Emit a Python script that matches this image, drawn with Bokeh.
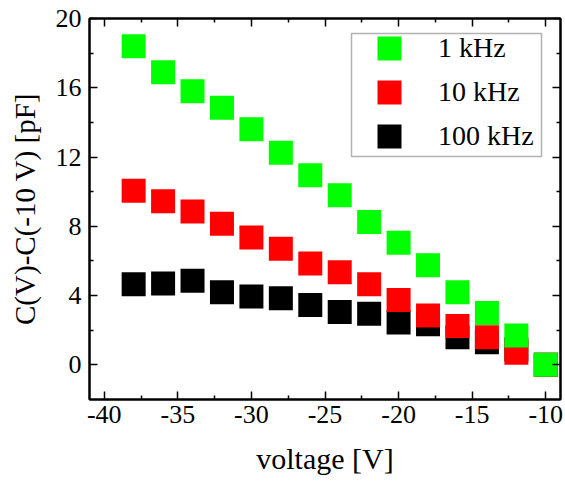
from bokeh.plotting import figure
from bokeh.models import (ColumnDataSource, Range1d, LinearAxis, FixedTicker,
                          Legend, LegendItem, BoxAnnotation, CustomJSTickFormatter)
from bokeh.embed import file_html
from bokeh.resources import INLINE

# Capacitance change relative to -10 V bias, three measurement frequencies
voltage = [-38, -36, -34, -32, -30, -28, -26, -24, -22, -20, -18, -16, -14, -12, -10]
dc_1khz = [18.4, 16.9, 15.8, 14.85, 13.6, 12.25, 10.95, 9.8, 8.25, 7.05, 5.75, 4.2, 3.0, 1.7, 0.0]
dc_10khz = [10.05, 9.45, 8.85, 8.15, 7.35, 6.7, 5.85, 5.35, 4.65, 3.75, 2.85, 2.25, 1.6, 0.7, 0.0]
dc_100khz = [4.65, 4.7, 4.85, 4.2, 3.95, 3.85, 3.45, 3.05, 2.95, 2.45, 2.35, 1.6, 1.3, 0.9, 0.0]

series_labels = ["1 kHz", "10 kHz", "100 kHz"]
series_colors = ["#00ff00", "#ff0000", "#000000"]

x_major = [-40, -35, -30, -25, -20, -15, -10]
x_minor = [-37.5, -32.5, -27.5, -22.5, -17.5, -12.5]
y_major = [0, 4, 8, 12, 16, 20]
y_minor = [2, 6, 10, 14, 18]

FONT = "Liberation Serif"

p = figure(width=565, height=482,
           x_range=Range1d(-41, -9), y_range=Range1d(-2, 20),
           output_backend="svg", toolbar_location=None,
           min_border_left=89, min_border_right=5,
           min_border_top=18, min_border_bottom=83,
           x_axis_label="voltage [V]", y_axis_label="C(V)-C(-10 V) [pF]")

p.xgrid.visible = False
p.ygrid.visible = False
p.outline_line_color = "black"
p.outline_line_width = 2
p.background_fill_color = "white"
p.border_fill_color = "white"

# draw 100 kHz first so the lower-frequency squares sit on top
renderers = {}
for label, values, color in reversed(list(zip(series_labels,
                                               [dc_1khz, dc_10khz, dc_100khz],
                                               series_colors))):
    src = ColumnDataSource(dict(v=voltage, c=values))
    renderers[label] = p.rect(x="v", y="c", width=24, height=24,
                              width_units="screen", height_units="screen",
                              fill_color=color, line_color=None, source=src)

xt = FixedTicker(ticks=x_major, minor_ticks=x_minor)
yt = FixedTicker(ticks=y_major, minor_ticks=y_minor)

# plain ASCII hyphen for negative tick values
plain = CustomJSTickFormatter(code="return String(tick)")


def style_axis(ax, label_size="30px"):
    ax.axis_line_width = 2
    ax.axis_line_color = "black"
    ax.major_tick_in = 8
    ax.major_tick_out = 0
    ax.minor_tick_in = 4
    ax.minor_tick_out = 0
    ax.major_tick_line_width = 1.5
    ax.minor_tick_line_width = 1.5
    ax.major_label_text_font = FONT
    ax.major_label_text_font_size = "26px"
    ax.major_label_text_color = "black"
    ax.axis_label_text_font = FONT
    ax.axis_label_text_font_size = label_size
    ax.axis_label_text_font_style = "normal"
    ax.axis_label_text_color = "black"


p.xaxis.ticker = xt
p.yaxis.ticker = yt
p.xaxis.formatter = plain
p.yaxis.formatter = plain
style_axis(p.xaxis[0], "30px")
style_axis(p.yaxis[0], "29px")
p.xaxis.major_label_standoff = 6
p.xaxis.axis_label_standoff = 16
p.yaxis.major_label_standoff = 8
p.yaxis.axis_label_standoff = 12

# mirrored tick marks on the top and right edges
blank = CustomJSTickFormatter(code="return ''")
top_ax = LinearAxis(ticker=xt, formatter=blank)
right_ax = LinearAxis(ticker=yt, formatter=blank)
for ax in (top_ax, right_ax):
    style_axis(ax)
    ax.major_label_text_font_size = "1px"
    ax.major_label_standoff = 0
p.add_layout(top_ax, "above")
p.add_layout(right_ax, "right")

# legend entries, framed by a separate box
legend = Legend(items=[LegendItem(label=lab, renderers=[renderers[lab]]) for lab in series_labels],
                location=(285, 247), padding=0, margin=0, spacing=12,
                glyph_width=30, glyph_height=30, label_height=30,
                label_standoff=34, border_line_alpha=0, background_fill_alpha=0,
                label_text_font=FONT, label_text_font_size="28px",
                label_text_color="black")
p.add_layout(legend)

legend_box = BoxAnnotation(left=262, right=452, bottom=243, top=366,
                           left_units="screen", right_units="screen",
                           bottom_units="screen", top_units="screen",
                           fill_color=None, line_color="black", line_width=1.5)
p.add_layout(legend_box)

open("out.html", "w").write(file_html(p, INLINE))
